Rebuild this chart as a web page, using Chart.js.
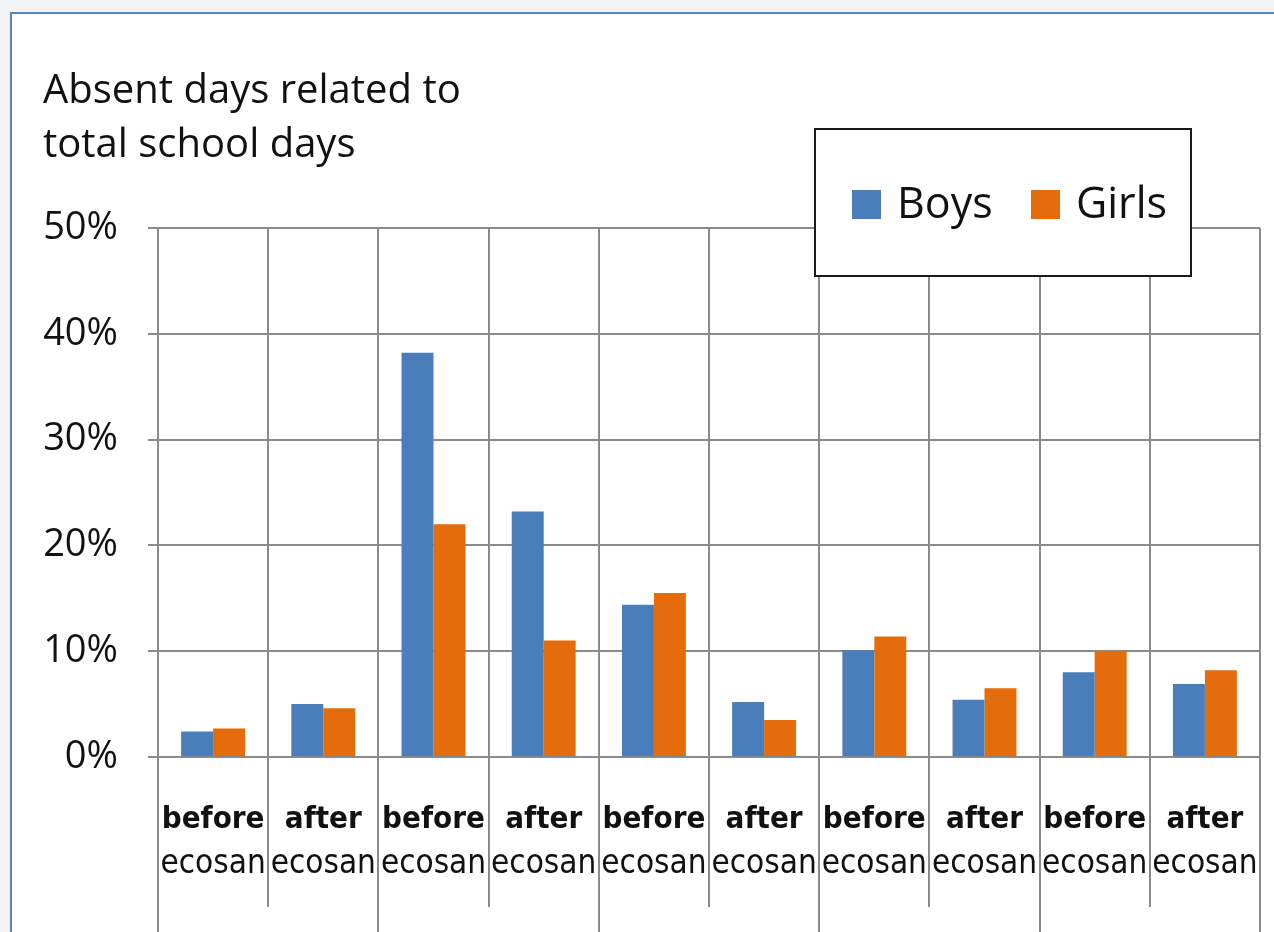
<!DOCTYPE html>
<html>
<head>
<meta charset="utf-8">
<script src="https://cdn.jsdelivr.net/npm/chart.js@4/dist/chart.umd.min.js"></script>
<style>
  html, body { margin: 0; padding: 0; width: 1274px; height: 932px; overflow: hidden; background: #f1f3f6; }
  #frame { position: absolute; left: 10px; top: 12px; width: 1280px; height: 940px; background: #ffffff;
           border-left: 2px solid #5a86c4; border-top: 2px solid #5a86c4; }
  #c { position: absolute; left: 0; top: 0; }
</style>
</head>
<body>
<div id="frame"></div>
<canvas id="c" width="1274" height="932"></canvas>
<script>
// ---- data ----
const categoryTop = ['before', 'after', 'before', 'after', 'before', 'after', 'before', 'after', 'before', 'after'];
const categoryBottom = ['ecosan', 'ecosan', 'ecosan', 'ecosan', 'ecosan', 'ecosan', 'ecosan', 'ecosan', 'ecosan', 'ecosan'];
const boys = [2.4, 5.0, 38.2, 23.2, 14.4, 5.2, 10.1, 5.4, 8.0, 6.9];
const girls = [2.7, 4.6, 22.0, 11.0, 15.5, 3.5, 11.4, 6.5, 10.0, 8.2];
const seriesNames = ['Boys', 'Girls'];
const titleLines = ['Absent days related to', 'total school days'];
const yMin = 0, yMax = 50, yStep = 10;

const FONT = '"Open Sans", "DejaVu Sans", sans-serif';
const CAT_FONT = '"DejaVu Sans Condensed", "DejaVu Sans", sans-serif';
const GRID = '#8a8a8a';
const TEXT = '#111111';

const labelPlugin = {
  id: 'extras',
  afterDraw(chart) {
    const ctx = chart.ctx;
    const x = chart.scales.x;
    const area = chart.chartArea;
    ctx.save();
    // title
    ctx.fillStyle = TEXT;
    ctx.textAlign = 'left';
    ctx.textBaseline = 'alphabetic';
    ctx.font = '40px ' + FONT;
    ctx.fillText(titleLines[0], 43, 103);
    ctx.fillText(titleLines[1], 43, 157);

    // category boundary extensions below axis
    const n = categoryTop.length;
    const bounds = [];
    for (let i = 0; i <= n; i++) {
      let px;
      if (i === 0) px = x.left;
      else if (i === n) px = x.right;
      else px = (x.getPixelForValue(i - 1) + x.getPixelForValue(i)) / 2;
      bounds.push(px);
    }
    ctx.strokeStyle = GRID;
    ctx.lineWidth = 2;
    bounds.forEach((px, i) => {
      const yEnd = (i % 2 === 0) ? chart.height : area.bottom + 150;
      ctx.beginPath();
      ctx.moveTo(Math.round(px), area.bottom);
      ctx.lineTo(Math.round(px), yEnd);
      ctx.stroke();
    });

    // category labels
    ctx.textAlign = 'center';
    for (let i = 0; i < n; i++) {
      const cx = x.getPixelForValue(i);
      ctx.font = 'bold 31px ' + CAT_FONT;
      ctx.fillText(categoryTop[i], cx, 828);
      ctx.font = '33px ' + CAT_FONT;
      ctx.fillText(categoryBottom[i], cx, 873);
    }

    // legend box
    const lx = 815, ly = 129, lw = 376, lh = 147;
    ctx.fillStyle = '#ffffff';
    ctx.fillRect(lx, ly, lw, lh);
    ctx.strokeStyle = '#1a1a1a';
    ctx.lineWidth = 2;
    ctx.strokeRect(lx, ly, lw, lh);
    const items = chart.data.datasets;
    const sq = [852, 1031];
    ctx.textAlign = 'left';
    ctx.font = '43px ' + FONT;
    items.forEach((ds, i) => {
      ctx.fillStyle = ds.backgroundColor;
      ctx.fillRect(sq[i], 190, 29, 29);
      ctx.fillStyle = TEXT;
      ctx.fillText(ds.label, sq[i] + 45, 218);
    });
    ctx.restore();
  }
};

new Chart(document.getElementById('c'), {
  type: 'bar',
  data: {
    labels: categoryTop.map((t, i) => t + ' ' + categoryBottom[i]),
    datasets: [
      { label: seriesNames[0], data: boys, backgroundColor: '#4a7ebb', borderWidth: 0,
        categoryPercentage: 0.58, barPercentage: 1.0 },
      { label: seriesNames[1], data: girls, backgroundColor: '#e46c0a', borderWidth: 0,
        categoryPercentage: 0.58, barPercentage: 1.0 }
    ]
  },
  options: {
    responsive: false,
    animation: false,
    devicePixelRatio: 1,
    layout: { padding: { left: 43, top: 228, right: 14, bottom: 0 } },
    plugins: { legend: { display: false }, title: { display: false }, tooltip: { enabled: false } },
    scales: {
      x: {
        offset: true,
        grid: { offset: true, color: GRID, lineWidth: 2, drawTicks: false },
        border: { color: GRID, width: 2 },
        ticks: { display: false },
        afterFit(scale) { scale.height = 175; }
      },
      y: {
        min: yMin, max: yMax,
        ticks: { stepSize: yStep, padding: 30, color: TEXT, font: { family: FONT, size: 38 },
                 callback: v => v + '%' },
        grid: { color: GRID, lineWidth: 2, tickLength: 10, tickColor: GRID },
        border: { color: GRID, width: 2 },
        afterFit(scale) { scale.width = 115; }
      }
    }
  },
  plugins: [labelPlugin]
});
</script>
</body>
</html>
